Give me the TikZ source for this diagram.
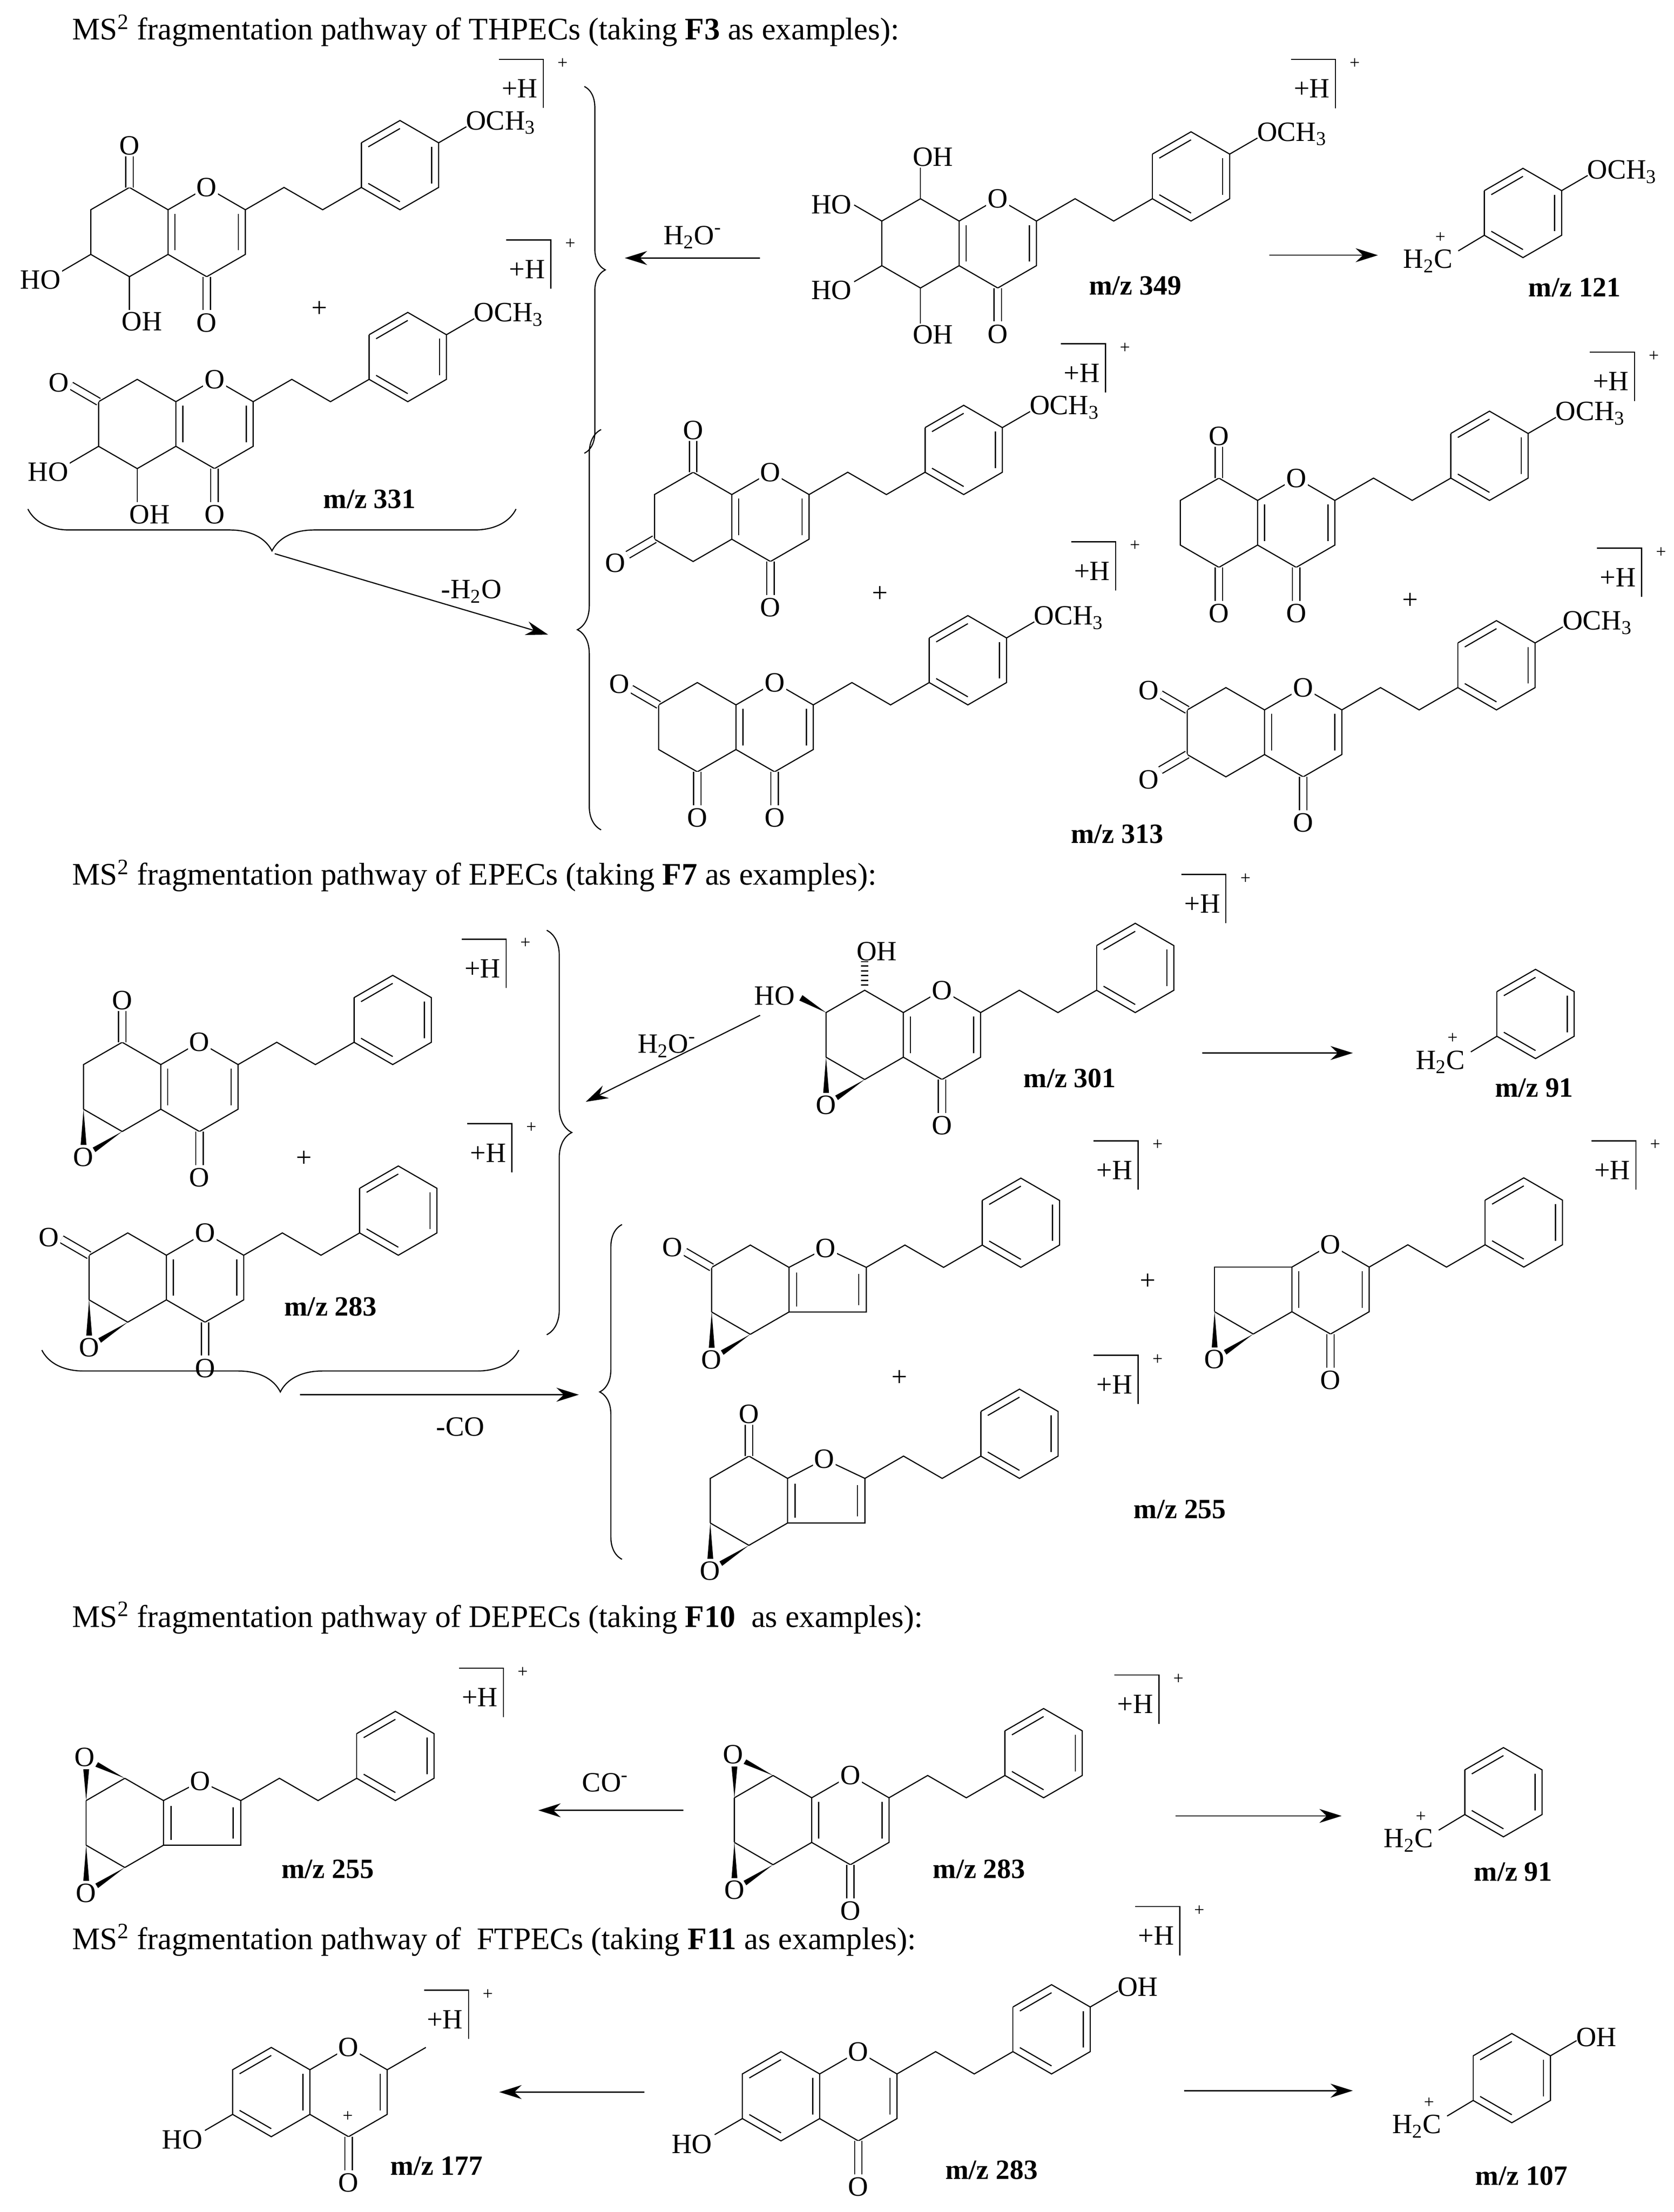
\documentclass[tikz,border=0pt]{standalone}
\usepackage{fontspec}
\setmainfont{Liberation Serif}
\usetikzlibrary{calc,decorations.pathreplacing,arrows.meta}
\tikzset{
  every node/.style={font=\fontsize{20}{22}\selectfont},
  atom/.style={fill=white,inner sep=1pt},
  supp/.style={font=\fontsize{13}{14}\selectfont},
  rxn/.style={line width=0.8pt,-{Stealth[length=16pt,width=10pt]}},
  brc/.style={decorate,line width=0.8pt},
  ttl/.style={anchor=west,font=\fontsize{22.5}{25}\selectfont},
  mz/.style={font=\fontsize{20}{22}\selectfont\bfseries},
  dco/.style={double,double distance=4.5pt}
}
\newcommand\ringpts{\coordinate (T) at (0,-1); \coordinate (UL) at (-.866,-.5); \coordinate (LL) at (-.866,.5); \coordinate (B) at (0,1); \coordinate (SU) at (.866,-.5); \coordinate (SD) at (.866,.5); \coordinate (O1) at (1.732,-1); \coordinate (C2) at (2.598,-.5); \coordinate (C3) at (2.598,.5); \coordinate (C4) at (1.732,1); \coordinate (Ctr) at (0,0); \coordinate (Ctr2) at (1.732,0); \coordinate (FO) at (1.69,-.93);}
\newcommand\dbl[3]{\draw ($(#1)!.18!(#3)$)--($(#2)!.18!(#3)$);}
\newcommand\pyrone{\draw (SU)--(O1)--(C2)--(C3)--(C4)--(SD)--cycle; \dbl{C2}{C3}{Ctr2}}
\newcommand\furan{\draw (SU)--(FO)--(C2)--(C3)--(SD)--cycle; \draw ($(SU)+(.17,.12)$)--($(SD)+(.17,-.12)$); \draw ($(C2)+(-.17,.15)$)--($(C3)+(-.17,-.15)$); \node[atom] at (FO){O};}
\newcommand\ringO{\node[atom] at (O1){O};}
\newcommand\cfour{\draw[dco] (C4)--++(0,.75); \node[atom] at ($(C4)+(0,1.03)$){O};}
\newcommand\ctop{\draw[dco] (T)--++(0,-.72); \node[atom] at (0,-1.94){O};}
\newcommand\cbot{\draw[dco] (B)--++(0,.75); \node[atom] at (0,2.03){O};}
\newcommand\phring[3]{%
  \draw (#1,#2) ++(-.866,-.5) ++(0,1) -- ++(.866,.5) -- ++(.866,-.5) -- ++(0,-1) -- ++(-.866,-.5) -- ++(-.866,.5);
  \ifnum#3=0 \draw (#1,#2) ++(-.866,-.5) -- ++(0,1);\fi
  \draw (#1,#2) ++(-.71,-.41) -- ++(.71,-.41);
  \draw (#1,#2) ++(.71,-.41) -- ++(0,.82);
  \draw (#1,#2) ++(0,.82) -- ++(-.71,-.41);}
\newcommand\chainph[2]{\draw (C2)--(3.464,-1)--(4.33,-.5)--(5.196,-1); \phring{6.062}{-1.5}{#2}%
  \if\relax\detokenize{#1}\relax\else \draw (6.928,-2)--(7.55,-2.36); \node[anchor=west,inner sep=1pt] at (7.5,-2.45){#1};\fi}
\newcommand\epoB{\fill (LL)--(-.80,1.3)--(-.93,1.3)--cycle; \fill (B)--(-.60,1.46)--(-.66,1.36)--cycle; \draw (LL)--(B); \node at (-.87,1.57){O};}
\newcommand\epoT{\fill (UL)--(-.80,-1.2)--(-.93,-1.2)--cycle; \fill (T)--(-.60,-1.36)--(-.66,-1.26)--cycle; \draw (UL)--(T); \node at (-.9,-1.47){O};}
\newcommand\benzyl[3]{\begin{scope}[shift={(#1,#2)},scale=32] \phring{0}{0}{0}
  \draw (-.866,.5)--(-1.45,.85); \node at (-2.13,1.08){H\textsubscript{2}C}; \node[supp] at (-1.85,.55){+};
  \if\relax\detokenize{#3}\relax\else \draw (.866,-.5)--(1.45,-.84); \node[anchor=west,inner sep=1pt] at (1.4,-.92){#3};\fi
  \end{scope}}
\newcommand\hbr[2]{\node at (#1,#2){+H}; \draw ({#1-15},{#2-21})--({#1+17},{#2-21})--({#1+17},{#2+14}); \node[supp] at ({#1+31},{#2-18}){+};}
\newcommand\OMe{OCH\textsubscript{3}}
\begin{document}
\begin{tikzpicture}[x=1pt,y=-1pt,line width=0.8pt]
\useasboundingbox (0,0) rectangle (1200,1586);
\fill[white] (0,0) rectangle (1200,1586);
% ---------------- Section 1
\node[ttl] at (48,22) {MS\textsuperscript{2} fragmentation pathway of THPECs (taking \textbf{F3} as examples):};
% Mol A
\begin{scope}[shift={(92.8,166.4)},scale=32]\ringpts
 \draw (SU)--(T)--(UL)--(LL)--(B)--(SD); \pyrone \dbl{SU}{SD}{Ctr2}
 \ctop
 \draw (LL)--++(-.65,.38); \node[atom,anchor=east] at (-1.5,1.07){HO};
 \draw (B)--++(0,.75); \node[atom] at (.28,2.0){OH};
 \cfour \chainph{\OMe}{0} \ringO
\end{scope}
% Mol B
\begin{scope}[shift={(98.4,304)},scale=32]\ringpts
 \draw (SU)--(T)--(UL)--(LL)--(B)--(SD); \pyrone \dbl{SU}{SD}{Ctr2}
 \draw[dco] (UL)--++(-.62,-.36); \node[atom] at (-1.76,-.93){O};
 \draw (LL)--++(-.65,.38); \node[atom,anchor=east] at (-1.5,1.07){HO};
 \draw (B)--++(0,.75); \node[atom] at (.28,2.03){OH};
 \cfour \chainph{\OMe}{0} \ringO
\end{scope}
\node at (229,221.5){+};
\node[mz] at (265,358){m/z 331};
\hbr{372.6}{63.5} \hbr{378}{193}
% Mol 349
\begin{scope}[shift={(660,174.5)},scale=32]\ringpts
 \draw (SU)--(T)--(UL)--(LL)--(B)--(SD); \pyrone \dbl{SU}{SD}{Ctr2}
 \draw (T)--++(0,-.85); \node[atom] at (.28,-1.94){OH};
 \draw (UL)--++(-.62,-.36); \node[atom,anchor=east] at (-1.5,-.87){HO};
 \draw (LL)--++(-.62,.36); \node[atom,anchor=east] at (-1.5,1.05){HO};
 \draw (B)--++(0,.8); \node[atom] at (.28,2.05){OH};
 \cfour \chainph{\OMe}{0} \ringO
\end{scope}
\node[mz] at (814,205){m/z 349};
\hbr{940.6}{63.6}
\benzyl{1092}{152.7}{\OMe}
\node[mz] at (1129,206){m/z 121};
% Mol C1
\begin{scope}[shift={(497,370.6)},scale=32]\ringpts
 \draw (SU)--(T)--(UL)--(LL)--(B)--(SD); \pyrone \dbl{SU}{SD}{Ctr2}
 \ctop
 \draw[dco] (LL)--++(-.6,.35); \node[atom] at (-1.74,1.03){O};
 \cfour \chainph{\OMe}{0} \ringO
\end{scope}
% Mol C2
\begin{scope}[shift={(500,521.4)},scale=32]\ringpts
 \draw (SU)--(T)--(UL)--(LL)--(B)--(SD); \pyrone \dbl{SU}{SD}{Ctr2}
 \draw[dco] (UL)--++(-.62,-.36); \node[atom] at (-1.75,-.97){O};
 \cbot \cfour \chainph{\OMe}{0} \ringO
\end{scope}
% Mol C3
\begin{scope}[shift={(874,374.8)},scale=32]\ringpts
 \draw (SU)--(T)--(UL)--(LL)--(B)--(SD); \pyrone \dbl{SU}{SD}{Ctr2}
 \ctop \cbot \cfour
 \chainph{\OMe}{0} \ringO
\end{scope}
% Mol C4
\begin{scope}[shift={(879,525)},scale=32]\ringpts
 \draw (SU)--(T)--(UL)--(LL)--(B)--(SD); \pyrone \dbl{SU}{SD}{Ctr2}
 \draw[dco] (UL)--++(-.6,-.35); \node[atom] at (-1.73,-.94){O};
 \draw[dco] (LL)--++(-.6,.35); \node[atom] at (-1.73,1.06){O};
 \cfour \chainph{\OMe}{0} \ringO
\end{scope}
\node at (631,426){+}; \node at (1011,431){+};
\node[mz] at (801,598){m/z 313};
\hbr{775.6}{267.5} \hbr{1155}{273.5} \hbr{783}{409.4} \hbr{1160}{414}
% braces & arrows section 1
\draw[brc,decoration={brace,amplitude=15pt}] (419,62)--(419,325);
\draw[brc,decoration={brace,amplitude=17pt}] (431,595)--(431,308);
\draw[brc,decoration={brace,amplitude=30pt}] (370,365)--(20,365);
\coordinate (a1s) at (545,185); \coordinate (a1e) at (448,185);
\draw[rxn] (a1s)--(a1e) node[midway,above=3pt]{H\textsubscript{2}O\textsuperscript{-}};
\coordinate (a2s) at (910,183); \coordinate (a2e) at (988,183);
\draw[rxn] (a2s)--(a2e);
\coordinate (a3s) at (197,397); \coordinate (a3e) at (393,455);
\draw[rxn] (a3s)--(a3e);
\node at (338,424){-H\textsubscript{2}O};
% ---------------- Section 2
\node[ttl] at (48,628) {MS\textsuperscript{2} fragmentation pathway of EPECs (taking \textbf{F7} as examples):};
% D1
\begin{scope}[shift={(87.6,779.3)},scale=32]\ringpts
 \draw (SU)--(T)--(UL)--(LL); \draw (B)--(SD); \pyrone \dbl{SU}{SD}{Ctr2}
 \ctop
 \epoB \cfour \chainph{}{0} \ringO
\end{scope}
% D2
\begin{scope}[shift={(91.6,916)},scale=32]\ringpts
 \draw (SU)--(T)--(UL)--(LL); \draw (B)--(SD); \pyrone \dbl{SU}{SD}{Ctr2}
 \draw[dco] (UL)--++(-.62,-.36); \node[atom] at (-1.77,-.9){O};
 \epoB \cfour \chainph{}{0} \ringO
\end{scope}
\node at (218,831){+};
\node[mz] at (237,937){m/z 283};
\hbr{346}{694.4} \hbr{350}{826.6}
% 301
\begin{scope}[shift={(620,742)},scale=32]\ringpts
 \draw (SU)--(T)--(UL)--(LL); \draw (B)--(SD); \pyrone \dbl{SU}{SD}{Ctr2}
 \draw[line width=5pt,dash pattern=on 1pt off 2.4pt] (0,-1.1)--(0,-1.65); \node at (.27,-1.87){OH};
 \fill (UL)--(-1.395,-.89)--(-1.465,-.77)--cycle; \node[anchor=east] at (-1.45,-.87){HO};
 \epoB \cfour \chainph{}{0} \ringO
\end{scope}
\node[mz] at (767,773){m/z 301};
\hbr{862}{648}
\benzyl{1101}{727}{}
\node[mz] at (1100,780){m/z 91};
% E1
\begin{scope}[shift={(538,924.7)},scale=32]\ringpts
 \draw (SU)--(T)--(UL)--(LL); \draw (B)--(SD);
 \draw[dco] (UL)--++(-.6,-.35); \node[atom] at (-1.75,-.95){O};
 \epoB \chainph{}{0} \furan
\end{scope}
% E2
\begin{scope}[shift={(537,1076)},scale=32]\ringpts
 \draw (SU)--(T)--(UL)--(LL); \draw (B)--(SD);
 \ctop
 \epoB \chainph{}{0} \furan
\end{scope}
% E3
\begin{scope}[shift={(898.6,924.5)},scale=32]\ringpts
 \draw (SU)--(UL)--(LL); \draw (B)--(SD); \pyrone \dbl{SU}{SD}{Ctr2}
 \epoB \cfour \chainph{}{0} \ringO
\end{scope}
\node at (823,919){+}; \node at (645,988){+};
\node[mz] at (846,1082){m/z 255};
\hbr{799}{839} \hbr{799}{992.7} \hbr{1156}{839}
\draw[brc,decoration={brace,amplitude=18pt}] (392,667)--(392,957);
\draw[brc,decoration={brace,amplitude=30pt}] (372,968)--(30,968);
\draw[brc,decoration={brace,amplitude=16pt}] (446,1118)--(446,878);
\coordinate (b1s) at (545,728); \coordinate (b1e) at (420,790);
\draw[rxn] (b1s)--(b1e);
\node at (478,750){H\textsubscript{2}O\textsuperscript{-}};
\coordinate (b2s) at (862,755); \coordinate (b2e) at (970,755);
\draw[rxn] (b2s)--(b2e);
\coordinate (b3s) at (215,1000); \coordinate (b3e) at (415,1000);
\draw[rxn] (b3s)--(b3e);
\node at (330,1023){-CO};
% ---------------- Section 3
\node[ttl] at (48,1160) {MS\textsuperscript{2} fragmentation pathway of DEPECs (taking \textbf{F10}\ \ as examples):};
\begin{scope}[shift={(89.5,1307)},scale=32]\ringpts
 \draw (SU)--(T); \draw (UL)--(LL); \draw (B)--(SD);
 \epoT \epoB \chainph{}{0} \furan
\end{scope}
\node[mz] at (235,1340){m/z 255};
\hbr{344}{1217}
\begin{scope}[shift={(554.3,1305)},scale=32]\ringpts
 \draw (SU)--(T); \draw (UL)--(LL); \draw (B)--(SD); \pyrone \dbl{SU}{SD}{Ctr2}
 \epoT \epoB \cfour \chainph{}{0} \ringO
\end{scope}
\node[mz] at (702,1340){m/z 283};
\hbr{814}{1222}
\coordinate (c1s) at (490,1298); \coordinate (c1e) at (386,1298);
\draw[rxn] (c1s)--(c1e);
\node at (434,1278){CO\textsuperscript{-}};
\coordinate (c2s) at (843,1302); \coordinate (c2e) at (962,1302);
\draw[rxn] (c2s)--(c2e);
\benzyl{1078}{1285}{}
\node[mz] at (1085,1342){m/z 91};
% ---------------- Section 4
\node[ttl] at (48,1391) {MS\textsuperscript{2} fragmentation pathway of\ \ FTPECs (taking \textbf{F11} as examples):};
\begin{scope}[shift={(194.5,1500)},scale=32]\ringpts
 \draw (SU)--(T)--(UL)--(LL)--(B)--(SD); \pyrone
 \dbl{UL}{T}{Ctr} \dbl{LL}{B}{Ctr} \dbl{SU}{SD}{Ctr}
 \draw (C2)--(3.464,-1);
 \node[supp] at (1.72,.55){+};
 \draw (LL)--++(-.62,.36); \node[atom,anchor=east] at (-1.5,1.07){HO};
 \cfour \ringO
\end{scope}
\node[mz] at (313,1553){m/z 177};
\hbr{319}{1448}
\begin{scope}[shift={(560,1503)},scale=32]\ringpts
 \draw (SU)--(T)--(UL)--(LL)--(B)--(SD); \pyrone
 \dbl{UL}{T}{Ctr} \dbl{LL}{B}{Ctr} \dbl{SU}{SD}{Ctr}
 \draw (LL)--++(-.62,.36); \node[atom,anchor=east] at (-1.5,1.07){HO};
 \cfour \chainph{OH}{0} \ringO
\end{scope}
\node[mz] at (711,1556){m/z 283};
\hbr{829}{1388}
\coordinate (d1s) at (462,1500); \coordinate (d1e) at (358,1500);
\draw[rxn] (d1s)--(d1e);
\coordinate (d2s) at (849,1499); \coordinate (d2e) at (970,1499);
\draw[rxn] (d2s)--(d2e);
\benzyl{1084}{1490}{OH}
\node[mz] at (1091,1560){m/z 107};
\end{tikzpicture}
\end{document}
